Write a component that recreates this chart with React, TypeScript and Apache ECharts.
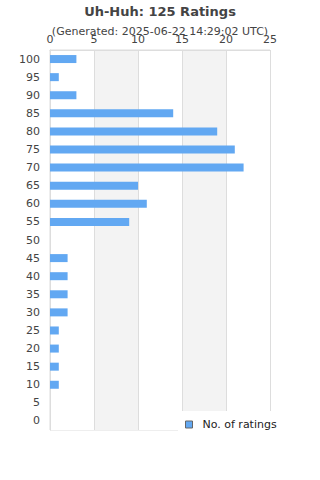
import React, { useEffect, useRef } from "react";
import * as echarts from "echarts";

const categories = ["0","5","10","15","20","25","30","35","40","45","50","55","60","65","70","75","80","85","90","95","100"];
const ratings = [0,0,1,1,1,1,2,2,2,2,0,9,11,10,22,21,19,14,3,1,3];
const xTicks = { min: 0, max: 25, interval: 5 };
const titleText = "Uh-Huh: 125 Ratings";
const subText = "(Generated: 2025-06-22 14:29:02 UTC)";
const seriesName = "No. of ratings";

export default function App() {
  const ref = useRef<HTMLDivElement>(null);
  useEffect(() => {
    if (!ref.current) return;
    const chart = echarts.init(ref.current, undefined, { renderer: "svg" });
    const font = "DejaVu Sans";
    chart.setOption({
      animation: false,
      textStyle: { fontFamily: font },
      title: {
        text: titleText,
        subtext: subText,
        left: "center",
        top: 0,
        itemGap: 8,
        textStyle: { fontSize: 13, fontWeight: "bold", color: "#444", fontFamily: font },
        subtextStyle: { fontSize: 11, color: "#444", fontFamily: font },
      },
      grid: {
        left: 50, right: 50, top: 50, bottom: 50,
        show: true, borderColor: "#ddd", borderWidth: 1, backgroundColor: "transparent",
      },
      xAxis: {
        type: "value",
        position: "top",
        min: xTicks.min, max: xTicks.max, interval: xTicks.interval,
        axisLine: { show: true, lineStyle: { color: "#ddd" } },
        axisTick: { show: false },
        axisLabel: { color: "#444", fontSize: 11, margin: 5, fontFamily: font },
        splitLine: { show: true, lineStyle: { color: "#ddd" } },
        splitArea: { show: true, areaStyle: { color: ["#ffffff", "#f3f3f3"] } },
      },
      yAxis: {
        type: "category",
        data: categories,
        axisLine: { show: true, lineStyle: { color: "#ddd" } },
        axisTick: { show: false },
        axisLabel: { color: "#444", fontSize: 11, margin: 10, fontFamily: font },
      },
      legend: {
        data: [seriesName],
        left: 178,
        top: 411,
        backgroundColor: "#ffffff",
        padding: [8, 10, 8, 7],
        itemWidth: 7,
        itemHeight: 7,
        icon: "rect",
        itemStyle: { borderColor: "#666", borderWidth: 1 },
        textStyle: { fontSize: 11, color: "#222", fontFamily: font, padding: [0, 0, 0, 5] },
      },
      series: [
        {
          name: seriesName,
          type: "bar",
          data: ratings,
          barWidth: 8,
          itemStyle: { color: "#62a8f2" },
        },
      ],
    });
    return () => chart.dispose();
  }, []);
  return <div ref={ref} style={{ width: 320, height: 480, position: "absolute", left: 0, top: 0 }} />;
}
